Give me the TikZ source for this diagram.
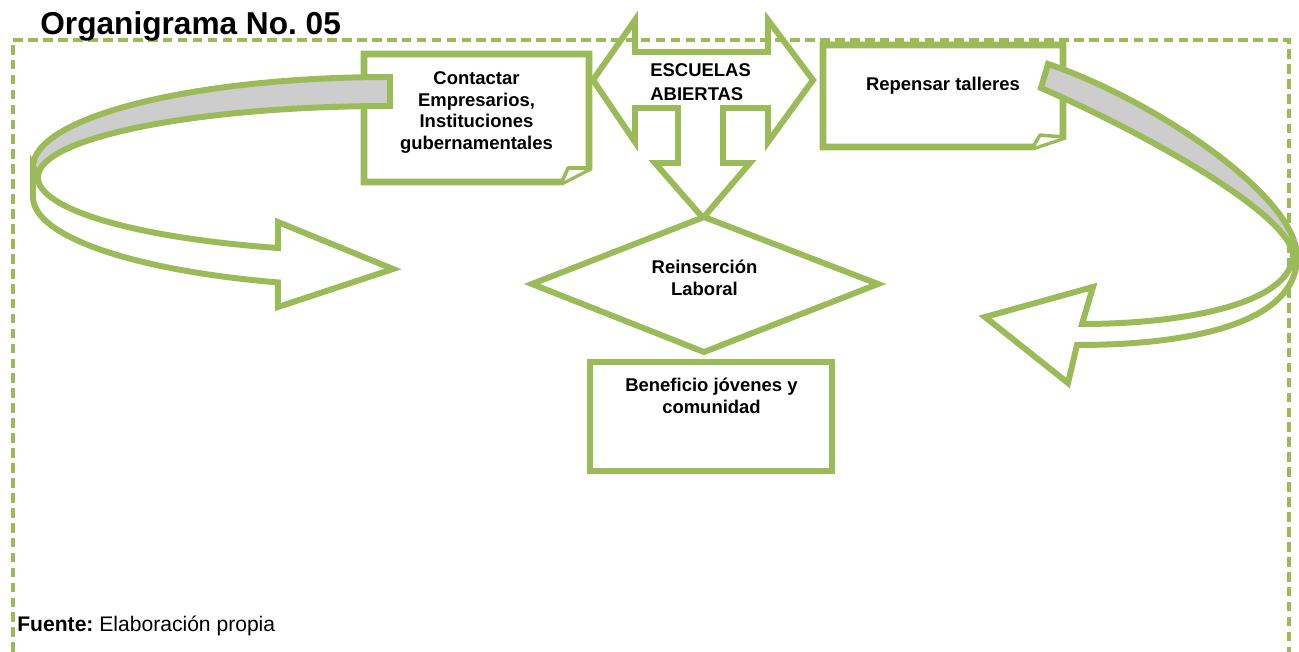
\documentclass[tikz,border=0pt]{standalone}
\usepackage{fontspec}
\setmainfont{Liberation Sans}
\definecolor{verde}{HTML}{9BBB59}
\definecolor{gris}{HTML}{CDCDCD}
\frenchspacing

\begin{document}
\begin{tikzpicture}[x=0.2mm,y=0.2mm,
	marco/.style={verde, line width=1.8pt, dash pattern=on 5.5pt off 3pt},
	caja/.style={draw=verde, fill=white, line width=3.8pt},
	pliegue/.style={draw=verde, fill=white, line width=2pt, line join=round},
	flecha/.style={draw=verde, line width=3.4pt},
	cinta/.style={draw=verde, fill=gris, line width=3.4pt},
	texto/.style={font=\fontsize{10.5}{12.5}\selectfont\bfseries, align=center, inner sep=0pt}]
\useasboundingbox (0,0) rectangle (1299,-652);
% marco punteado
\draw[marco] (13,-652) -- (13,-40) -- (1289,-40) -- (1289,-652);
% cajas
\draw[caja] (364,-54) -- (589,-54) -- (589,-168) -- (562,-182) -- (364,-182) -- cycle;
\draw[pliegue] (562,-182) -- (568,-168) -- (589,-168);
\draw[caja] (823,-45) -- (1063,-45) -- (1063,-137) -- (1033,-147) -- (823,-147) -- cycle;
\draw[pliegue] (1033,-147) -- (1040,-135) -- (1063,-137);
\draw[caja] (590,-362) rectangle (832,-471);
% flecha de tres puntas
\draw[flecha] (593,-80) -- (635,-20) -- (635,-52) -- (768,-52) -- (768,-20) -- (813,-80)
	-- (768,-142) -- (768,-108) -- (723,-108) -- (723,-163) -- (750,-163) -- (703,-218)
	-- (655,-163) -- (678,-163) -- (678,-108) -- (635,-108) -- (635,-142) -- cycle;
% rombo
\draw[flecha, fill=white] (704,-217) -- (878,-284) -- (704,-352) -- (532,-284) -- cycle;
% flecha curva izquierda
\draw[cinta] (390,-77) arc[start angle=90, end angle=180, x radius=7.14cm, y radius=1.8cm]
	-- (38,-177) arc[start angle=180, end angle=90, x radius=7.04cm, y radius=1.42cm] -- cycle;
\draw[flecha, fill=white] (33,-167) -- (33,-197)
	arc[start angle=180, end angle=251.7, x radius=7.14cm, y radius=1.8cm]
	-- (278,-307) -- (393,-269) -- (278,-222) -- (278,-248)
	arc[start angle=251.5, end angle=180, x radius=7.04cm, y radius=1.5cm] -- cycle;
% flecha curva derecha
\draw[cinta] (1048,-64) .. controls (1150,-98) and (1297,-195) .. (1297,-257)
	-- (1293,-255) .. controls (1289,-212) and (1138,-130) .. (1041,-88) -- cycle;
\draw[flecha, fill=white] (1297,-257) .. controls (1297,-320) and (1200,-345) .. (1077,-345)
	-- (1068,-383) -- (985,-317) -- (1093,-287) -- (1082,-324)
	.. controls (1180,-324) and (1291,-305) .. (1293,-255) -- cycle;
% textos
\node[anchor=base west, inner sep=0pt, font=\fontsize{18}{20}\selectfont\bfseries] (titulo) at (40,-35) {Organigrama No. 05};
\node[texto] (contactar) at (476.5,-112.5) {Contactar\\Empresarios,\\Instituciones\\gubernamentales};
\node[texto, align=left, anchor=west, font=\fontsize{10.5}{14}\selectfont\bfseries] (escuelas) at (650,-82) {ESCUELAS\\ABIERTAS};
\node[texto] (repensar) at (943,-86) {Repensar talleres};
\node[texto] (reinsercion) at (704.5,-278) {Reinserción\\Laboral};
\node[texto] (beneficio) at (711.5,-396) {Beneficio jóvenes y\\comunidad};
\node[anchor=base west, inner sep=0pt, font=\fontsize{12}{14}\selectfont] (fuente) at (17,-631) {\textbf{Fuente:} Elaboración propia};
\end{tikzpicture}
\end{document}
